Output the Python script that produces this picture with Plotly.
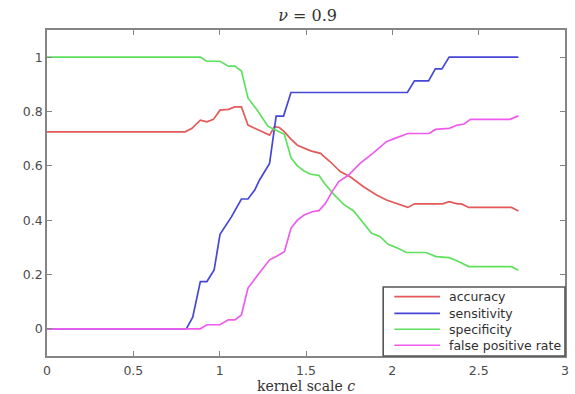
import plotly.graph_objects as go

# Kernel scale sweep for nu = 0.9 (breakpoints of each curve)
acc_x = [0, 0.80, 0.84, 0.888, 0.926, 0.954, 0.964, 1.002, 1.05, 1.088, 1.126, 1.164, 1.203,
         1.26, 1.289, 1.317, 1.346, 1.375, 1.41, 1.45, 1.47, 1.527, 1.584, 1.64, 1.70, 1.756,
         1.833, 1.909, 1.966, 2.033, 2.09, 2.128, 2.29, 2.329, 2.377, 2.40, 2.443, 2.69, 2.73]
acc_y = [0.725, 0.725, 0.738, 0.768, 0.762, 0.768, 0.771, 0.805, 0.808, 0.817, 0.817, 0.75, 0.738,
         0.72, 0.713, 0.744, 0.741, 0.725, 0.70, 0.676, 0.67, 0.655, 0.646, 0.615, 0.578, 0.56,
         0.523, 0.493, 0.474, 0.46, 0.447, 0.46, 0.46, 0.468, 0.46, 0.46, 0.447, 0.447, 0.434]

sens_x = [0, 0.807, 0.844, 0.888, 0.926, 0.968, 1.002, 1.031, 1.069, 1.126, 1.164, 1.203,
          1.231, 1.289, 1.327, 1.37, 1.413, 2.087, 2.128, 2.21, 2.249, 2.287, 2.329, 2.73]
sens_y = [0, 0, 0.043, 0.174, 0.174, 0.217, 0.348, 0.376, 0.413, 0.478, 0.478, 0.511,
          0.548, 0.609, 0.783, 0.783, 0.870, 0.870, 0.913, 0.913, 0.957, 0.957, 1.0, 1.0]

spec_x = [0, 0.888, 0.926, 1.002, 1.05, 1.088, 1.126, 1.164, 1.222, 1.279, 1.317, 1.375,
          1.413, 1.45, 1.489, 1.527, 1.575, 1.604, 1.661, 1.718, 1.776, 1.833, 1.88, 1.928,
          1.976, 2.024, 2.081, 2.195, 2.253, 2.329, 2.377, 2.443, 2.69, 2.73]
spec_y = [1, 1, 0.985, 0.985, 0.967, 0.967, 0.949, 0.85, 0.801, 0.746, 0.734, 0.716,
          0.63, 0.60, 0.581, 0.569, 0.565, 0.538, 0.495, 0.458, 0.434, 0.391, 0.352, 0.34,
          0.311, 0.299, 0.281, 0.281, 0.266, 0.262, 0.25, 0.229, 0.229, 0.216]

fpr_x = [0, 0.888, 0.926, 1.002, 1.05, 1.088, 1.126, 1.164, 1.222, 1.289, 1.327, 1.375,
         1.413, 1.45, 1.489, 1.537, 1.575, 1.613, 1.651, 1.69, 1.747, 1.813, 1.89, 1.966,
         2.014, 2.09, 2.214, 2.249, 2.329, 2.377, 2.415, 2.453, 2.682, 2.73]
fpr_y = [0, 0, 0.015, 0.015, 0.033, 0.033, 0.051, 0.15, 0.199, 0.254, 0.266, 0.284,
         0.37, 0.40, 0.419, 0.431, 0.435, 0.462, 0.505, 0.542, 0.566, 0.609, 0.648, 0.689,
         0.701, 0.719, 0.719, 0.734, 0.738, 0.75, 0.754, 0.771, 0.771, 0.784]

x_ticks = [0, 0.5, 1, 1.5, 2, 2.5, 3]
x_tick_text = ["0", "0.5", "1", "1.5", "2", "2.5", "3"]
y_ticks = [0, 0.2, 0.4, 0.6, 0.8, 1]
y_tick_text = ["0", "0.2", "0.4", "0.6", "0.8", "1"]

series_names = ["accuracy", "sensitivity", "specificity", "false positive rate"]
series_colors = ["#e25a5a", "#4747d6", "#5fe05f", "#ee5cee"]
series_x = [acc_x, sens_x, spec_x, fpr_x]
series_y = [acc_y, sens_y, spec_y, fpr_y]

SANS = "DejaVu Sans, Verdana, sans-serif"
SERIF = "DejaVu Serif, serif"

fig = go.Figure()
for name, xs, ys, col in zip(series_names, series_x, series_y, series_colors):
    fig.add_trace(go.Scatter(x=xs, y=ys, mode="lines", name=name, showlegend=False,
                             line=dict(color=col, width=1.7)))

axis_common = dict(
    showline=True, linecolor="#858585", linewidth=1.5, mirror="ticks",
    ticks="inside", ticklen=5, tickwidth=1, tickcolor="#858585",
    showgrid=False, zeroline=False,
    tickfont=dict(family=SANS, size=12.5, color="#4a4a4a"),
)

# Compact boxed legend in the lower-right corner of the axes (paper coordinates)
leg_x0, leg_x1, leg_top = 0.649, 1.0, 0.2117
row_y = [0.182, 0.131, 0.082, 0.033]
sample_x0, sample_x1, text_x = 0.6705, 0.7586, 0.772

shapes = [dict(type="rect", xref="paper", yref="paper", x0=leg_x0, x1=leg_x1, y0=0, y1=leg_top,
               line=dict(color="#555555", width=1.6), fillcolor="white", layer="above")]
annotations = []
for name, col, ry in zip(series_names, series_colors, row_y):
    shapes.append(dict(type="line", xref="paper", yref="paper", x0=sample_x0, x1=sample_x1,
                       y0=ry, y1=ry, line=dict(color=col, width=1.7), layer="above"))
    annotations.append(dict(text=name, xref="paper", yref="paper", x=text_x, y=ry,
                            xanchor="left", yanchor="middle", showarrow=False,
                            font=dict(family=SANS, size=12.5, color="#303030")))

fig.update_layout(
    width=575, height=394,
    margin=dict(l=47, r=6, t=30, b=38),
    paper_bgcolor="white", plot_bgcolor="white",
    title=dict(text="<i>ν</i> = 0.9", x=0.535, xanchor="center", y=0.96, yanchor="middle",
               font=dict(family=SERIF, size=16, color="#333333")),
    xaxis=dict(range=[0, 3], tickvals=x_ticks, ticktext=x_tick_text, ticklabelstandoff=2,
               title=dict(text="kernel scale <i>c</i>", standoff=0,
                          font=dict(family=SERIF, size=14, color="#333333")),
               **axis_common),
    yaxis=dict(range=[-0.1, 1.1], tickvals=y_ticks, ticktext=y_tick_text, **axis_common),
    shapes=shapes,
    annotations=annotations,
    showlegend=False,
)

fig.write_html("out.html")
